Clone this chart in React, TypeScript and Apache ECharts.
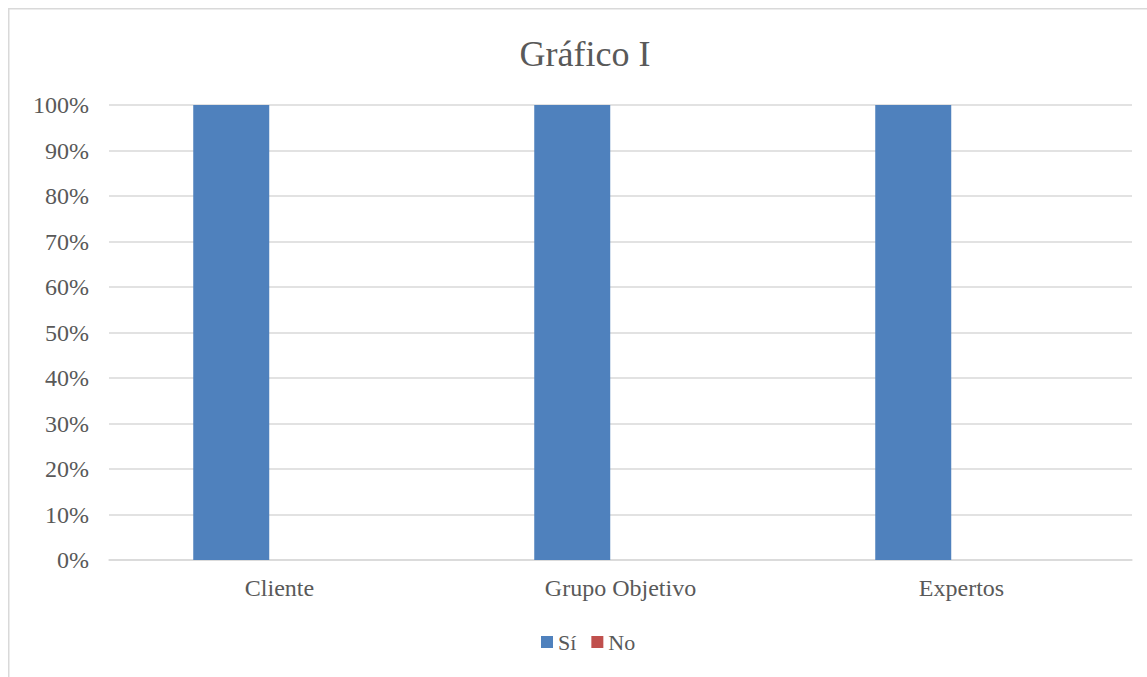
import React, { useEffect, useRef } from "react";
import * as echarts from "echarts";

const categories = ["Cliente", "Grupo Objetivo", "Expertos"];
const siValues = [100, 100, 100];
const noValues = [0, 0, 0];
const seriesNames = ["Sí", "No"];
const titleText = "Gráfico I";

const FONT = "'Liberation Serif', serif";
const TEXT = "#595959";

export default function App() {
  const ref = useRef<HTMLDivElement>(null);
  useEffect(() => {
    if (!ref.current) return;
    const chart = echarts.init(ref.current, null, { renderer: "svg" });
    chart.setOption({
      animation: false,
      backgroundColor: "#ffffff",
      graphic: [
        {
          type: "rect",
          shape: { x: 0.75, y: 0.75, width: 3000, height: 3000 },
          style: { fill: "none", stroke: "#d9d9d9", lineWidth: 1.5 },
          silent: true,
        },
        {
          type: "text",
          x: 577,
          y: 46,
          style: {
            text: titleText,
            fontFamily: FONT,
            fontSize: 36,
            fill: TEXT,
            textAlign: "center",
            textVerticalAlign: "middle",
          },
        },
      ],
      legend: {
        data: seriesNames,
        left: 533,
        top: 623,
        padding: 0,
        itemWidth: 12,
        itemHeight: 12,
        itemGap: 15,
        icon: "rect",
        textStyle: { fontFamily: FONT, fontSize: 22, color: TEXT },
      },
      grid: { left: 101, right: 15, top: 97, bottom: 117, containLabel: false },
      xAxis: {
        type: "category",
        data: categories,
        axisLine: { show: true, lineStyle: { color: "#d9d9d9", width: 1.5 } },
        axisTick: { show: false },
        axisLabel: { fontFamily: FONT, fontSize: 24, color: TEXT, margin: 16 },
      },
      yAxis: {
        type: "value",
        min: 0,
        max: 100,
        interval: 10,
        axisLine: { show: false },
        axisTick: { show: false },
        splitLine: { lineStyle: { color: "#d9d9d9", width: 1.5 } },
        axisLabel: {
          fontFamily: FONT,
          fontSize: 24,
          color: TEXT,
          margin: 20,
          formatter: "{value}%",
        },
      },
      series: [
        {
          name: seriesNames[0],
          type: "bar",
          data: siValues,
          barWidth: 76,
          barGap: "27%",
          itemStyle: { color: "#4f81bd" },
        },
        {
          name: seriesNames[1],
          type: "bar",
          data: noValues,
          barWidth: 76,
          barGap: "27%",
          itemStyle: { color: "#c0504d" },
        },
      ],
    });
    return () => chart.dispose();
  }, []);
  return (
    <div
      ref={ref}
      style={{ position: "absolute", left: 8, top: 8, width: 1139, height: 669, overflow: "hidden" }}
    />
  );
}
